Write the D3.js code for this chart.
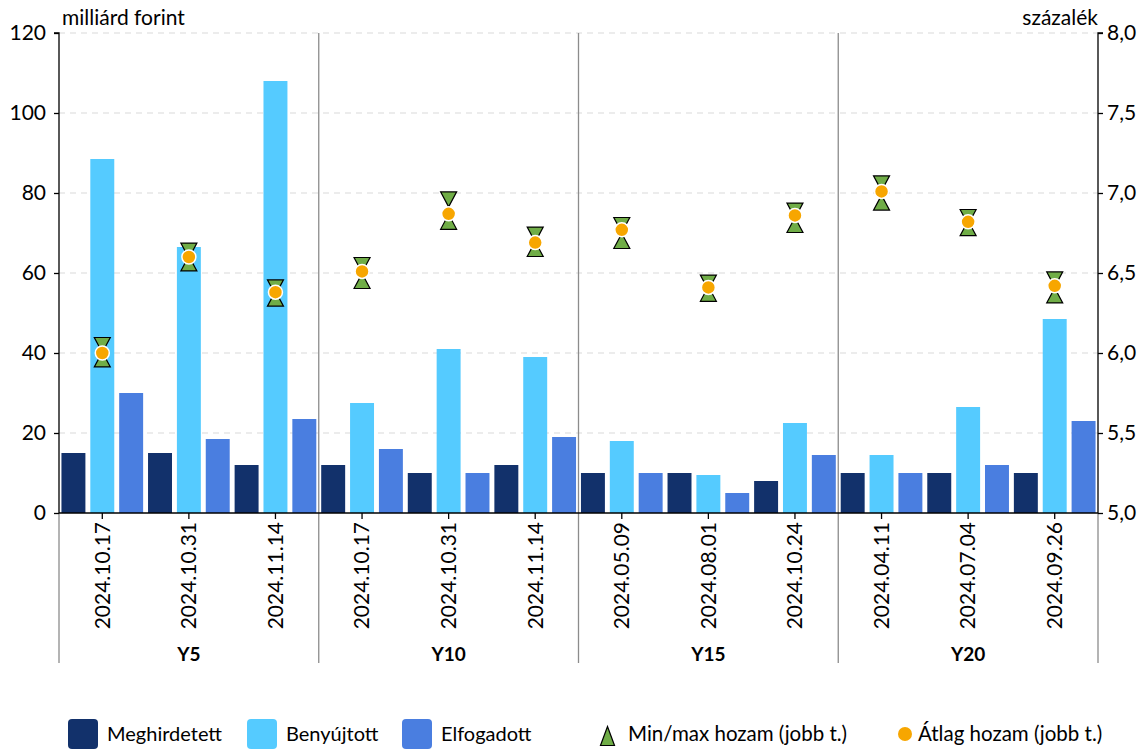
<!DOCTYPE html>
<html>
<head>
<meta charset="utf-8">
<script src="https://cdn.jsdelivr.net/npm/d3@7"></script>
<style>
  body { margin: 0; background: #fff; }
  svg text { font-family: Lato, "Open Sans", sans-serif; fill: #000; }
</style>
</head>
<body>
<div id="chart"></div>
<script>
// DATA
var groups = ["Y5", "Y10", "Y15", "Y20"];
var dates = ["2024.10.17", "2024.10.31", "2024.11.14",
             "2024.10.17", "2024.10.31", "2024.11.14",
             "2024.05.09", "2024.08.01", "2024.10.24",
             "2024.04.11", "2024.07.04", "2024.09.26"];
var groupOf = ["Y5", "Y5", "Y5", "Y10", "Y10", "Y10", "Y15", "Y15", "Y15", "Y20", "Y20", "Y20"];
var meghirdetett = [15, 15, 12, 12, 10, 12, 10, 10, 8, 10, 10, 10];
var benyujtott = [88.5, 66.5, 108, 27.5, 41, 39, 18, 9.5, 22.5, 14.5, 26.5, 48.5];
var elfogadott = [30, 18.5, 23.5, 16, 10, 19, 10, 5, 14.5, 10, 12, 23];
var atlagHozam = [6.00, 6.60, 6.38, 6.51, 6.87, 6.69, 6.77, 6.41, 6.86, 7.01, 6.82, 6.42];
var maxHozam = [6.05, 6.64, 6.41, 6.55, 6.96, 6.74, 6.80, 6.44, 6.89, 7.06, 6.85, 6.46];
var minHozam = [5.96, 6.56, 6.34, 6.45, 6.82, 6.65, 6.70, 6.37, 6.80, 6.94, 6.78, 6.36];
var leftTicks = [0, 20, 40, 60, 80, 100, 120];
var rightTicks = [5.0, 5.5, 6.0, 6.5, 7.0, 7.5, 8.0];
var seriesNames = ["Meghirdetett", "Benyújtott", "Elfogadott"];
var seriesColors = ["#12316b", "#55cbff", "#4a7ee0"];

// SETUP
var W = 1144, H = 749;
var margin = { top: 33, left: 59, right: 46, bottom: 236 };
var width = W - margin.left - margin.right;
var height = H - margin.top - margin.bottom;

var svg = d3.select("#chart").append("svg")
  .attr("width", W).attr("height", H);
var g = svg.append("g").attr("transform", "translate(" + margin.left + "," + margin.top + ")");

var idx = d3.range(dates.length);
var x = d3.scaleBand().domain(idx).range([0, width]).padding(0);
var x1 = d3.scaleBand().domain(seriesNames).range([0, x.bandwidth()])
  .paddingInner(0.17).paddingOuter(0.085);
var yL = d3.scaleLinear().domain([0, 120]).range([height, 0]);
var yR = d3.scaleLinear().domain([5, 8]).range([height, 0]);
var huFmt = d3.formatLocale({ decimal: ",", thousands: " ", grouping: [3], currency: ["", " Ft"] }).format(".1f");

// GRIDLINES
g.append("g").selectAll("line").data(leftTicks.slice(1)).enter().append("line")
  .attr("x1", 0).attr("x2", width)
  .attr("y1", function(d) { return yL(d); }).attr("y2", function(d) { return yL(d); })
  .attr("stroke", "#d9d9d9").attr("stroke-dasharray", "6,5").attr("stroke-width", 1);

// BARS
var series = [meghirdetett, benyujtott, elfogadott];
series.forEach(function(vals, s) {
  g.append("g").selectAll("rect").data(idx).enter().append("rect")
    .attr("x", function(i) { return x(i) + x1(seriesNames[s]); })
    .attr("width", x1.bandwidth())
    .attr("y", function(i) { return yL(vals[i]); })
    .attr("height", function(i) { return height - yL(vals[i]); })
    .attr("fill", seriesColors[s]);
});

// GROUP SEPARATORS
var groupEdges = d3.range(groups.length + 1).map(function(k) { return k * 3; });
g.append("g").selectAll("line").data(groupEdges).enter().append("line")
  .attr("x1", function(k) { return k === 12 ? width : x(k); })
  .attr("x2", function(k) { return k === 12 ? width : x(k); })
  .attr("y1", function(k) { return (k === 0 || k === 12) ? height : 0; })
  .attr("y2", height + 150)
  .attr("stroke", "#8c8c8c").attr("stroke-width", 1.3);

// AXES
var axL = g.append("g").call(d3.axisLeft(yL).tickValues(leftTicks).tickSize(5).tickPadding(8));
var axR = g.append("g").attr("transform", "translate(" + width + ",0)")
  .call(d3.axisRight(yR).tickValues(rightTicks).tickSize(5).tickPadding(4).tickFormat(huFmt));
var axB = g.append("g").attr("transform", "translate(0," + height + ")")
  .call(d3.axisBottom(x).tickSize(6).tickFormat(function(i) { return dates[i]; }));
[axL, axR, axB].forEach(function(a) {
  a.select(".domain").attr("stroke", "#000").attr("stroke-width", 1.3);
  a.selectAll(".tick line").attr("stroke", "#000").attr("stroke-width", 1.3);
  a.selectAll("text").style("font-size", "21px").style("font-family", "Lato, sans-serif").attr("fill", "#000");
});
axB.select(".domain").attr("d", "M0,0H" + width);
axL.select(".domain").attr("d", "M-5,0H0V" + height);
axR.select(".domain").attr("d", "M5,0H0V" + height);
axB.selectAll(".tick text")
  .attr("transform", "rotate(-90)")
  .attr("text-anchor", "end")
  .attr("x", -9).attr("y", 0).attr("dy", "0.35em");

// GROUP LABELS
g.append("g").selectAll("text").data(groups).enter().append("text")
  .attr("x", function(d, k) { return x(k * 3) + x.bandwidth() * 1.5; })
  .attr("y", height + 148)
  .attr("text-anchor", "middle")
  .style("font-size", "19px").style("font-weight", "bold")
  .text(function(d) { return d; });

// AXIS TITLES
svg.append("text").attr("x", 62).attr("y", 25).style("font-size", "21px").text("milliárd forint");
svg.append("text").attr("x", W - margin.right).attr("y", 25).attr("text-anchor", "end")
  .style("font-size", "21px").text("százalék");

// MARKERS
function triDown(cx, cy, w, h) { return "M" + (cx - w / 2) + "," + (cy - h / 2) + "H" + (cx + w / 2) + "L" + cx + "," + (cy + h / 2) + "Z"; }
function triUp(cx, cy, w, h) { return "M" + (cx - w / 2) + "," + (cy + h / 2) + "H" + (cx + w / 2) + "L" + cx + "," + (cy - h / 2) + "Z"; }
var markerX = function(i) { return x(i) + x.bandwidth() / 2; };
g.append("g").selectAll("path").data(idx).enter().append("path")
  .attr("d", function(i) { return triDown(markerX(i), yR(maxHozam[i]), 16, 15); })
  .attr("fill", "#70ad47").attr("stroke", "#000").attr("stroke-width", 1.2);
g.append("g").selectAll("path").data(idx).enter().append("path")
  .attr("d", function(i) { return triUp(markerX(i), yR(minHozam[i]), 16, 15); })
  .attr("fill", "#70ad47").attr("stroke", "#000").attr("stroke-width", 1.2);
g.append("g").selectAll("circle").data(idx).enter().append("circle")
  .attr("cx", markerX).attr("cy", function(i) { return yR(atlagHozam[i]); })
  .attr("r", 7).attr("fill", "#f7a600").attr("stroke", "#fff").attr("stroke-width", 1.5);

// LEGEND
var ly = 734;
var leg = svg.append("g");
var legSq = [68, 247, 402];
seriesNames.forEach(function(n, s) {
  leg.append("rect").attr("x", legSq[s]).attr("y", ly - 15).attr("width", 30).attr("height", 30)
    .attr("rx", 4).attr("fill", seriesColors[s]);
  leg.append("text").attr("x", legSq[s] + 39).attr("y", ly).attr("dy", "0.35em")
    .style("font-size", "20px").text(n);
});
leg.append("path").attr("d", triUp(607.5, ly + 2, 14, 19))
  .attr("fill", "#70ad47").attr("stroke", "#000").attr("stroke-width", 1.2);
leg.append("text").attr("x", 628).attr("y", ly).attr("dy", "0.35em").style("font-size", "20.5px")
  .text("Min/max hozam (jobb t.)");
leg.append("circle").attr("cx", 905).attr("cy", ly).attr("r", 7).attr("fill", "#f7a600");
leg.append("text").attr("x", 918).attr("y", ly).attr("dy", "0.35em").style("font-size", "20.5px")
  .text("Átlag hozam (jobb t.)");
</script>
</body>
</html>
